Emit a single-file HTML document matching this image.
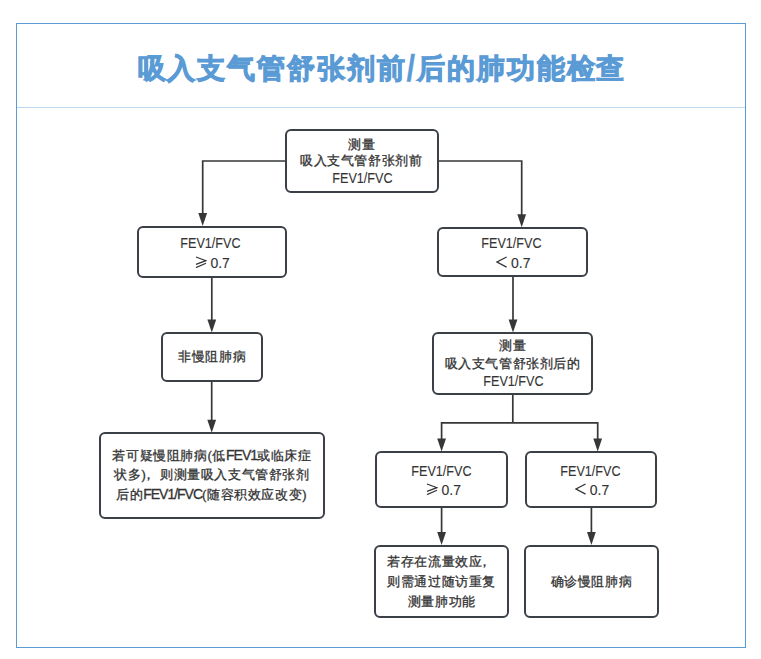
<!DOCTYPE html>
<html>
<head>
<meta charset="utf-8">
<style>
html,body{margin:0;padding:0;background:#fff;width:761px;height:659px;overflow:hidden;}
body{position:relative;font-family:"Liberation Sans",sans-serif;}
.frame{position:absolute;left:16px;top:23px;width:730px;height:625px;box-sizing:border-box;border:1px solid #5b9bd5;}
.sep{position:absolute;left:17px;top:107px;width:728px;height:1px;background:#bdd7ee;}
.title{position:absolute;left:137.5px;top:49px;font-size:28px;line-height:40px;font-weight:bold;color:#5b9bd5;white-space:nowrap;letter-spacing:1.95px;-webkit-text-stroke:1px #5b9bd5;}
.sl{display:inline-block;transform:scale(1.1,1.3);-webkit-text-stroke:0.2px #5b9bd5;}
.box{position:absolute;box-sizing:border-box;border:2px solid #3b4047;border-radius:6px;}
.t{position:absolute;width:300px;height:20px;text-align:center;font-size:13px;line-height:20px;color:#333333;white-space:nowrap;letter-spacing:0.6px;-webkit-text-stroke:0.3px #333333;}
.lt{display:inline-block;font-size:14px;letter-spacing:0;-webkit-text-stroke:0.1px;transform:scaleX(0.9);transform-origin:50% 50%;}
.ln{letter-spacing:-1px;font-size:14px;}
.cm{position:relative;left:-4px;}
.n{font-size:14px;letter-spacing:0;-webkit-text-stroke:0.1px;}
.ge,.lts{display:inline-block;vertical-align:baseline;margin-right:3px;}
svg.conn{position:absolute;left:0;top:0;}
</style>
</head>
<body>
<div class="frame"></div>
<div class="sep"></div>
<div class="title">吸入支气管舒张剂前<span class="sl">/</span>后的肺功能检查</div>

<svg class="conn" width="761" height="659" viewBox="0 0 761 659">
<g stroke="#363738" stroke-width="1.7" fill="none">
<path d="M285.6 161H202.7V214"/>
<path d="M438 161H521.7V215"/>
<path d="M211.8 276.6V321"/>
<path d="M211.7 381V421"/>
<path d="M513 275.9V321"/>
<path d="M512.8 394.25V422.8H441.6V440M512.8 422.8H597.7V440"/>
<path d="M441.6 507V534"/>
<path d="M591.4 507V534"/>
</g><g fill="#363738">
<path d="M198.30 213.00h8.80l-4.40 13.00z"/>
<path d="M517.30 214.30h8.80l-4.40 13.00z"/>
<path d="M207.40 319.50h8.80l-4.40 13.00z"/>
<path d="M207.30 419.75h8.80l-4.40 13.00z"/>
<path d="M508.60 319.50h8.80l-4.40 13.00z"/>
<path d="M437.20 438.60h8.80l-4.40 13.00z"/>
<path d="M593.30 438.60h8.80l-4.40 13.00z"/>
<path d="M437.20 532.00h8.80l-4.40 13.00z"/>
<path d="M587.00 532.00h8.80l-4.40 13.00z"/>
</g></svg>
<div class="box" style="left:284.60px;top:129.30px;width:154.40px;height:63.50px;"></div>
<div class="box" style="left:137.10px;top:225.50px;width:149.50px;height:52.10px;"></div>
<div class="box" style="left:437.10px;top:226.80px;width:151.00px;height:50.10px;"></div>
<div class="box" style="left:160.60px;top:332.00px;width:102.30px;height:50.00px;"></div>
<div class="box" style="left:98.60px;top:432.25px;width:226.90px;height:86.35px;"></div>
<div class="box" style="left:431.60px;top:332.00px;width:161.50px;height:63.25px;"></div>
<div class="box" style="left:375.00px;top:451.10px;width:133.00px;height:56.90px;"></div>
<div class="box" style="left:524.80px;top:451.10px;width:132.30px;height:56.90px;"></div>
<div class="box" style="left:373.70px;top:544.50px;width:135.80px;height:73.70px;"></div>
<div class="box" style="left:523.60px;top:544.50px;width:135.50px;height:73.70px;"></div>
<div class="t" style="left:211.85px;top:134.80px;">测量</div>
<div class="t" style="left:211.25px;top:151.00px;">吸入支气管舒张剂前</div>
<div class="t" style="left:212.45px;top:168.30px;"><span class="lt">FEV1/FVC</span></div>
<div class="t" style="left:60.75px;top:233.40px;"><span class="lt">FEV1/FVC</span></div>
<div class="t" style="left:62.65px;top:252.70px;"><svg class="ge" width="12" height="12" viewBox="0 0 12 12"><path d="M1 1L11 4.7L1 8.4M1 11.6L11 7.3" fill="none" stroke="#333333" stroke-width="1.25"/></svg><span class="n">0.7</span></div>
<div class="t" style="left:361.10px;top:233.40px;"><span class="lt">FEV1/FVC</span></div>
<div class="t" style="left:363.30px;top:252.80px;"><svg class="lts" width="12" height="12" viewBox="0 0 12 12"><path d="M10.6 1L1 6L10.6 11.1" fill="none" stroke="#333333" stroke-width="1.25"/></svg><span class="n">0.7</span></div>
<div class="t" style="left:62.30px;top:347.40px;">非慢阻肺病</div>
<div class="t" style="left:61.90px;top:445.20px;">若可疑慢阻肺病(低<span class="ln">FEV1</span>或临床症</div>
<div class="t" style="left:62.00px;top:464.80px;">状多)<span class="cm">，</span>则测量吸入支气管舒张剂</div>
<div class="t" style="left:61.55px;top:484.30px;">后的<span class="ln">FEV1/FVC</span>(随容积效应改变)</div>
<div class="t" style="left:362.90px;top:336.40px;">测量</div>
<div class="t" style="left:362.65px;top:354.30px;">吸入支气管舒张剂后的</div>
<div class="t" style="left:363.15px;top:371.30px;"><span class="lt">FEV1/FVC</span></div>
<div class="t" style="left:291.95px;top:460.70px;"><span class="lt">FEV1/FVC</span></div>
<div class="t" style="left:293.70px;top:480.40px;"><svg class="ge" width="12" height="12" viewBox="0 0 12 12"><path d="M1 1L11 4.7L1 8.4M1 11.6L11 7.3" fill="none" stroke="#333333" stroke-width="1.25"/></svg><span class="n">0.7</span></div>
<div class="t" style="left:440.05px;top:460.70px;"><span class="lt">FEV1/FVC</span></div>
<div class="t" style="left:441.95px;top:480.40px;"><svg class="lts" width="12" height="12" viewBox="0 0 12 12"><path d="M10.6 1L1 6L10.6 11.1" fill="none" stroke="#333333" stroke-width="1.25"/></svg><span class="n">0.7</span></div>
<div class="t" style="left:291.70px;top:551.50px;">若存在流量效应<span class="cm">，</span></div>
<div class="t" style="left:291.70px;top:572.00px;">则需通过随访重复</div>
<div class="t" style="left:291.80px;top:591.70px;">测量肺功能</div>
<div class="t" style="left:441.50px;top:571.80px;">确诊慢阻肺病</div>
</body>
</html>
